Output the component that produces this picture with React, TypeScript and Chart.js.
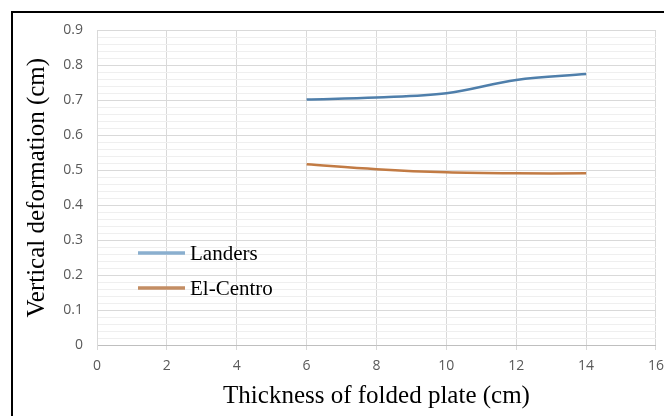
import React, { useEffect, useRef } from "react";
import { Chart, registerables } from "chart.js";

Chart.register(...registerables);

// ---- data ----
const thickness = [6, 8, 10, 12, 14];
const landers = [0.702, 0.708, 0.72, 0.758, 0.775];
const elCentro = [0.517, 0.503, 0.494, 0.491, 0.491];
const seriesNames = ["Landers", "El-Centro"];
const xTitle = "Thickness of folded plate (cm)";
const yTitle = "Vertical deformation (cm)";
const xMin = 0;
const xMax = 16;
const xStep = 2;
const yMin = 0;
const yMax = 0.9;
const yMajorStep = 0.1;
const yMinorStep = 0.02;

const lineColors = ["#4f7fab", "#c27b44"];
const legendColors = ["#8aafcf", "#c38d63"];

const isMajor = (v: number) => Math.round(v * 100) % Math.round(yMajorStep * 100) === 0;

const legendPlugin = {
  id: "insideLegend",
  afterDatasetsDraw(chart: any, _args: any, opts: any) {
    const ctx = chart.ctx as CanvasRenderingContext2D;
    ctx.save();
    chart.data.datasets.forEach((ds: any, i: number) => {
      const y = opts.y + i * opts.gap;
      ctx.strokeStyle = opts.colors[i];
      ctx.lineWidth = 3.5;
      ctx.lineCap = "butt";
      ctx.beginPath();
      ctx.moveTo(opts.x, y);
      ctx.lineTo(opts.x + opts.len, y);
      ctx.stroke();
      ctx.fillStyle = "#000";
      ctx.font = '21px "Liberation Serif", "Times New Roman", serif';
      ctx.textBaseline = "middle";
      ctx.textAlign = "left";
      ctx.fillText(ds.label, opts.x + opts.len + 5, y + 1);
    });
    ctx.restore();
  },
};

export default function App() {
  const ref = useRef<HTMLCanvasElement | null>(null);

  useEffect(() => {
    if (!ref.current) return;
    const chart = new Chart(ref.current, {
      type: "line",
      data: {
        datasets: [
          {
            label: seriesNames[0],
            data: thickness.map((x, i) => ({ x, y: landers[i] })),
            borderColor: lineColors[0],
            backgroundColor: lineColors[0],
            borderWidth: 2.5,
            pointRadius: 0,
            tension: 0.35,
            fill: false,
          },
          {
            label: seriesNames[1],
            data: thickness.map((x, i) => ({ x, y: elCentro[i] })),
            borderColor: lineColors[1],
            backgroundColor: lineColors[1],
            borderWidth: 2.5,
            pointRadius: 0,
            tension: 0.35,
            fill: false,
          },
        ],
      },
      plugins: [legendPlugin],
      options: {
        responsive: false,
        animation: false,
        devicePixelRatio: 1,
        layout: { padding: { top: 19, right: 15, left: 0, bottom: 0 } },
        plugins: {
          legend: { display: false },
          tooltip: { enabled: false },
          insideLegend: { x: 130, y: 245, gap: 35, len: 47, colors: legendColors },
        } as any,
        scales: {
          x: {
            type: "linear",
            min: xMin,
            max: xMax,
            afterFit: (scale: any) => {
              scale.height = 71;
            },
            ticks: {
              stepSize: xStep,
              padding: 8,
              color: "#595959",
              font: { family: '"Open Sans", "Noto Sans", sans-serif', size: 14 },
              maxRotation: 0,
            },
            grid: {
              color: "#d9d9d9",
              tickColor: "#d9d9d9",
              tickLength: 5,
              drawTicks: true,
              lineWidth: 1,
            },
            border: { color: "#bfbfbf", width: 1 },
            title: {
              display: true,
              text: xTitle,
              color: "#000",
              font: { family: '"Liberation Serif", "Times New Roman", serif', size: 25 },
              padding: { top: 0, bottom: 5 },
            },
          },
          y: {
            type: "linear",
            min: yMin,
            max: yMax,
            afterFit: (scale: any) => {
              scale.width = 89;
            },
            ticks: {
              stepSize: yMinorStep,
              autoSkip: false,
              padding: 14,
              color: "#595959",
              font: { family: '"Open Sans", "Noto Sans", sans-serif', size: 14 },
              callback: (v: any) => {
                const n = Number(v);
                return isMajor(n) ? String(Math.round(n * 10) / 10) : "";
              },
            },
            grid: {
              drawTicks: false,
              color: (c: any) => (c.tick && isMajor(c.tick.value) ? "#d9d9d9" : "#efefef"),
              lineWidth: 1,
            },
            border: { color: "#d9d9d9", width: 1 },
            title: {
              display: true,
              text: yTitle,
              color: "#000",
              font: { family: '"Liberation Serif", "Times New Roman", serif', size: 25 },
              padding: { top: 14, bottom: 0 },
            },
          },
        },
      },
    });
    return () => chart.destroy();
  }, []);

  return (
    <div style={{ position: "relative", width: 664, height: 408, overflow: "hidden", background: "#fff" }}>
      <canvas ref={ref} width={664} height={408} style={{ position: "absolute", left: 0, top: 0 }} />
      <div
        style={{
          position: "absolute",
          left: 3,
          top: 3,
          width: 655,
          height: 430,
          boxSizing: "border-box",
          border: "2px solid #000",
          pointerEvents: "none",
        }}
      />
    </div>
  );
}
